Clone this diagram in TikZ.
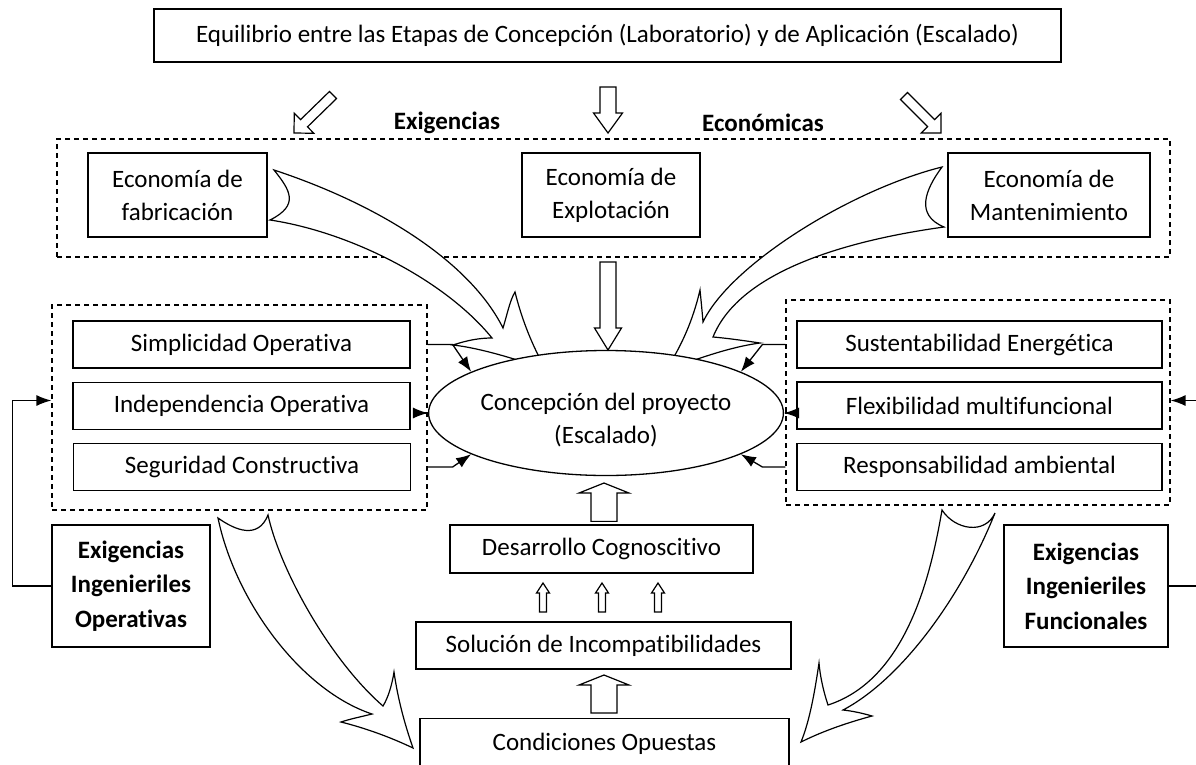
\documentclass[tikz,border=0pt]{standalone}
\usepackage{fontspec}
\setmainfont{Carlito}[Ligatures=NoCommon]
\usetikzlibrary{arrows.meta,calc,shapes.geometric}

\tikzset{
  box/.style={draw,line width=1.3pt,inner sep=4pt,align=center,fill=white},
  groupbox/.style={draw,dash pattern=on 5pt off 4pt,line width=1.2pt},
  hollow/.style={draw,line width=1.2pt,fill=white,line join=miter},
  feed/.style={line width=1.3pt,-{Latex[length=15pt,width=11pt]}},
  boldtxt/.style={font=\fontsize{25}{34.5}\selectfont\bfseries},
}

% tail, tip, shaft half width, head half width, head length
\newcommand{\blockarrow}[5]{%
  \coordinate (hb) at ($(#2)!#5!(#1)$);
  \draw[hollow] ($(#1)!#3!90:(#2)$) -- ($(hb)!#3!90:(#2)$) -- ($(hb)!#4!90:(#2)$) -- (#2)
    -- ($(hb)!#4!-90:(#2)$) -- ($(hb)!#3!-90:(#2)$) -- ($(#1)!#3!-90:(#2)$) -- cycle;
}

\begin{document}
\begin{tikzpicture}[x=1pt,y=-1pt,font=\fontsize{25}{33}\selectfont]
    \useasboundingbox (0,0) rectangle (1196,764);

    % economic requirements
    \node[box,minimum width=907pt,minimum height=53pt] (title) at (607.5,35.5) {Equilibrio entre las Etapas de Concepción (Laboratorio) y de Aplicación (Escalado)};
    \node[boldtxt] (exig) at (447,123) {Exigencias};
    \node[boldtxt] (econ) at (763,123) {Económicas};
    \node[groupbox,minimum width=1113pt,minimum height=118pt] (ecogroup) at (613.5,198) {};
    \node[box,minimum width=179pt,minimum height=84pt] (fab) at (177.5,195) {Economía de\\fabricación};
    \node[box,minimum width=178pt,minimum height=84pt] (expl) at (611,195) {Economía de\\Explotación};
    \node[box,minimum width=202pt,minimum height=84pt] (mant) at (1049,195) {Economía de\\Mantenimiento};

    % operative and functional requirements
    \node[groupbox,minimum width=375pt,minimum height=205pt] (leftgroup) at (239.5,407.5) {};
    \node[box,minimum width=337pt,minimum height=47pt] (simp) at (241.5,344.5) {Simplicidad Operativa};
    \node[box,minimum width=337pt,minimum height=47pt] (indep) at (241.5,406) {Independencia Operativa};
    \node[box,minimum width=337pt,minimum height=47pt] (segu) at (242,467) {Seguridad Constructiva};
    \node[groupbox,minimum width=384pt,minimum height=205pt] (rightgroup) at (978,402.5) {};
    \node[box,minimum width=365pt,minimum height=47pt] (sust) at (979.5,344.5) {Sustentabilidad Energética};
    \node[box,minimum width=365pt,minimum height=47pt] (flex) at (979.5,405.5) {Flexibilidad multifuncional};
    \node[box,minimum width=365pt,minimum height=47pt] (resp) at (979.5,467) {Responsabilidad ambiental};
    \node[box,boldtxt,minimum width=158pt,minimum height=122pt] (operativas) at (131,586) {Exigencias\\Ingenieriles\\Operativas};
    \node[box,boldtxt,minimum width=164pt,minimum height=122pt] (funcionales) at (1086,586) {Exigencias\\Ingenieriles\\Funcionales};

    \node[box,minimum width=303pt,minimum height=48pt] (desarrollo) at (601.5,549) {Desarrollo Cognoscitivo};
    \node[box,minimum width=375pt,minimum height=47pt] (solucion) at (603.5,645.5) {Solución de Incompatibilidades};
    \node[box,anchor=north,minimum width=369pt,text height=28pt,text depth=36pt] (cond) at (604.5,718) {Condiciones Opuestas};

    % curved arrows
    \draw[hollow] (274,170) .. controls (380,205) and (470,262) .. (503,328)
        .. controls (507,315) and (510,300) .. (515,292)
        .. controls (522,320) and (532,345) .. (546,370)
        .. controls (520,360) and (480,348) .. (453,345)
        .. controls (468,340) and (480,338) .. (492,338)
        .. controls (445,280) and (350,232) .. (270,220)
        .. controls (300,205) and (290,190) .. (274,170) -- cycle;
    \draw[hollow] (942,167) .. controls (850,190) and (730,265) .. (703,322)
        .. controls (702,310) and (701,300) .. (700,290)
        .. controls (693,320) and (682,345) .. (666,370)
        .. controls (700,358) and (730,347) .. (760,343)
        .. controls (740,340) and (725,338) .. (713,337)
        .. controls (740,270) and (850,240) .. (944,227)
        .. controls (915,215) and (925,190) .. (942,167) -- cycle;
    \draw[hollow] (218,518) .. controls (235,600) and (300,690) .. (372,714)
        .. controls (360,717) and (350,719) .. (341,722)
        .. controls (365,728) and (390,737) .. (413,748)
        .. controls (405,725) and (398,700) .. (394,672)
        .. controls (392,685) and (388,698) .. (383,706)
        .. controls (330,660) and (280,570) .. (268,515)
        .. controls (258,540) and (235,530) .. (218,518) -- cycle;
    \draw[hollow] (942,510) .. controls (930,580) and (905,680) .. (828,705)
        .. controls (823,690) and (820,675) .. (819,663)
        .. controls (815,690) and (810,720) .. (801,742)
        .. controls (825,730) and (850,722) .. (872,716)
        .. controls (862,713) and (852,711) .. (843,710)
        .. controls (900,680) and (960,600) .. (995,513)
        .. controls (985,535) and (955,530) .. (942,510) -- cycle;

    \node[ellipse,draw,line width=1.3pt,fill=white,minimum width=310pt,minimum height=125pt,inner sep=0pt] (proj) at (606,413)
        {\raisebox{-7pt}[\height][\depth]{\begin{tabular}{@{}c@{}}Concepción del proyecto\\(Escalado)\end{tabular}}};

    % block arrows
    \coordinate (la) at (333,95);  \coordinate (lb) at (294,133);
    \coordinate (ma) at (608,87);  \coordinate (mb) at (608,133);
    \coordinate (ra) at (904,96);  \coordinate (rb) at (941,133);
    \coordinate (ea) at (608,262); \coordinate (eb) at (608,350);
    \coordinate (da) at ($(desarrollo.north)+(2.5,-3)$); \coordinate (db) at (604,483);
    \coordinate (ca) at ($(cond.north)+(-0.5,-5)$);      \coordinate (cb) at (604,675);
    \blockarrow{la}{lb}{5pt}{14pt}{14pt}
    \blockarrow{ra}{rb}{5pt}{14pt}{14pt}
    \blockarrow{ma}{mb}{8pt}{14.5pt}{20pt}
    \blockarrow{ea}{eb}{8pt}{13.5pt}{22pt}
    \blockarrow{da}{db}{13pt}{25pt}{10pt}
    \blockarrow{ca}{cb}{13pt}{25pt}{10pt}
    \foreach \x in {543,602,658} {\blockarrow{\x,612}{\x,583}{3.5pt}{6.5pt}{10pt}}

    % connectors
    \draw[feed] (leftgroup.east |- simp.east) -- ++(25,0) -- (proj.163);
    \draw[feed] (leftgroup.east |- proj.west) -- (proj.west);
    \draw[feed] (leftgroup.east |- segu.east) -- ++(25,0) -- (proj.197);
    \draw[feed] (rightgroup.west |- sust.west) -- ++(-23,0) -- (proj.17);
    \draw[feed] (rightgroup.west |- proj.east) -- (proj.east);
    \draw[feed] (rightgroup.west |- resp.west) -- ++(-23,0) -- (proj.-17);
    \draw[feed] (operativas.west) -- ++(-39,0) |- ([yshift=7pt]leftgroup.west);
    \draw[feed] (funcionales.east) -- ++(40,0) |- ([yshift=2pt]rightgroup.east);
\end{tikzpicture}
\end{document}
